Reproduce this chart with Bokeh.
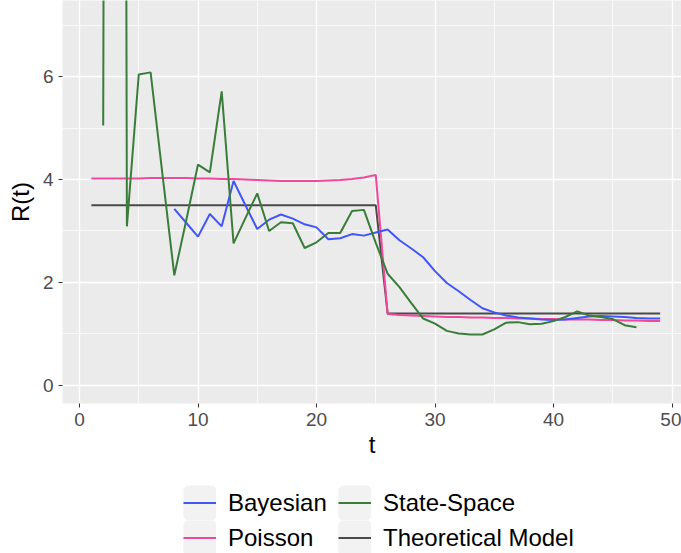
from bokeh.plotting import figure
from bokeh.layouts import column
from bokeh.models import Range1d, SingleIntervalTicker, Legend, LegendItem
from bokeh.embed import file_html
from bokeh.resources import INLINE

# ---- data ----
t_theory = list(range(1, 50))
r_theory = [3.5, 3.5, 3.5, 3.5, 3.5, 3.5, 3.5, 3.5, 3.5, 3.5,
            3.5, 3.5, 3.5, 3.5, 3.5, 3.5, 3.5, 3.5, 3.5, 3.5,
            3.5, 3.5, 3.5, 3.5, 3.5,
            1.4, 1.4, 1.4, 1.4, 1.4, 1.4, 1.4, 1.4, 1.4, 1.4,
            1.4, 1.4, 1.4, 1.4, 1.4, 1.4, 1.4, 1.4, 1.4, 1.4,
            1.4, 1.4, 1.4, 1.4]

t_poisson = list(range(1, 50))
r_poisson = [4.02, 4.02, 4.02, 4.02, 4.02, 4.03, 4.03, 4.03, 4.03, 4.02,
             4.02, 4.01, 4.01, 4.00, 3.99, 3.98, 3.97, 3.97, 3.97, 3.97,
             3.98, 3.99, 4.01, 4.04, 4.09,
             1.39, 1.37, 1.36, 1.35, 1.34, 1.33, 1.33, 1.32, 1.32, 1.31,
             1.31, 1.30, 1.30, 1.29, 1.29, 1.28, 1.28, 1.28, 1.27, 1.27,
             1.26, 1.26, 1.25, 1.25]

t_bayes = list(range(8, 50))
r_bayes = [3.43, 3.16, 2.89, 3.33, 3.09, 3.97, 3.50, 3.04, 3.22, 3.32,
           3.24, 3.13, 3.07, 2.84, 2.86, 2.94, 2.91, 2.97, 3.03, 2.82,
           2.66, 2.49, 2.22, 1.99, 1.83, 1.66, 1.50, 1.42, 1.36, 1.32,
           1.30, 1.28, 1.27, 1.28, 1.31, 1.34, 1.35, 1.34, 1.33, 1.31,
           1.30, 1.30]

t_state = list(range(2, 48))
r_state = [5.05, 100.0, 3.09, 6.04, 6.08, 4.10, 2.14, 3.20, 4.29, 4.14,
           5.71, 2.76, 3.25, 3.73, 3.00, 3.17, 3.15, 2.67, 2.78, 2.96,
           2.96, 3.39, 3.41, 2.77, 2.17, 1.91, 1.60, 1.30, 1.20, 1.06,
           1.01, 0.99, 0.99, 1.09, 1.22, 1.23, 1.19, 1.20, 1.25, 1.33,
           1.44, 1.36, 1.33, 1.29, 1.17, 1.13]

series_labels = ["Bayesian", "Poisson", "State-Space", "Theoretical Model"]
series_colors = ["#4256F8", "#F0489C", "#3A7D3A", "#4A4A4A"]

FONT = "Liberation Sans"

p = figure(width=681, height=473, output_backend="svg", toolbar_location=None,
           x_range=Range1d(-1.435, 50.8), y_range=Range1d(-0.35, 7.476),
           min_border_left=62, min_border_right=0, min_border_top=0,
           min_border_bottom=70)

p.background_fill_color = "#EBEBEB"
p.border_fill_color = "white"
p.outline_line_color = None

# grid
p.xaxis.ticker = SingleIntervalTicker(interval=10, num_minor_ticks=2)
p.yaxis.ticker = SingleIntervalTicker(interval=2, num_minor_ticks=2)
for g in (p.xgrid, p.ygrid):
    g.grid_line_color = "white"
    g.grid_line_width = 1.4
    g.minor_grid_line_color = "white"
    g.minor_grid_line_width = 0.7

# axes
for ax in (p.xaxis, p.yaxis):
    ax.axis_line_color = None
    ax.major_tick_in = 0
    ax.major_tick_out = 4
    ax.major_tick_line_color = "#333333"
    ax.major_tick_line_width = 1
    ax.minor_tick_out = 0
    ax.minor_tick_in = 0
    ax.major_label_text_font = FONT
    ax.major_label_text_font_size = "19px"
    ax.major_label_text_color = "#4D4D4D"
    ax.axis_label_text_font = FONT
    ax.axis_label_text_font_size = "24px"
    ax.axis_label_text_font_style = "normal"
    ax.axis_label_text_color = "black"

p.xaxis.axis_label = "t"
p.yaxis.axis_label = "R(t)"
p.xaxis.major_label_standoff = 5
p.yaxis.major_label_standoff = 5
p.xaxis.axis_label_standoff = 2
p.yaxis.axis_label_standoff = 6

# lines
lw = 2
p.line(t_theory, r_theory, line_color=series_colors[3], line_width=lw)
p.line(t_poisson, r_poisson, line_color=series_colors[1], line_width=lw)
p.line(t_bayes, r_bayes, line_color=series_colors[0], line_width=lw)
p.line(t_state, r_state, line_color=series_colors[2], line_width=lw)

# ---- legend strip below the plot ----
p2 = figure(width=681, height=80, output_backend="svg", toolbar_location=None,
            x_range=Range1d(0, 1), y_range=Range1d(0, 1),
            x_axis_type=None, y_axis_type=None, min_border=0)
p2.outline_line_color = None
p2.background_fill_color = "white"
p2.border_fill_color = "white"

# placeholder glyphs (outside the visible range) that only serve as legend keys
bg = p2.rect(x=[-5], y=[-5], width=1, height=1, fill_color="#F2F2F2",
             line_color="#F2F2F2", line_width=7)
items = []
for lab, col in zip(series_labels, series_colors):
    r = p2.line(x=[-5, -4], y=[-5, -5], line_color=col, line_width=lw)
    items.append(LegendItem(label=lab, renderers=[bg, r]))

legend = Legend(items=items, location=(121, -2), orientation="vertical", nrows=2,
                glyph_width=33, glyph_height=35, label_height=35, label_width=110,
                spacing=0, padding=0, margin=0, label_standoff=12,
                label_text_font=FONT, label_text_font_size="24px",
                label_text_color="black",
                background_fill_alpha=0, border_line_color=None)
p2.add_layout(legend)

layout = column(p, p2, spacing=0)
open("out.html", "w").write(file_html(layout, INLINE))
